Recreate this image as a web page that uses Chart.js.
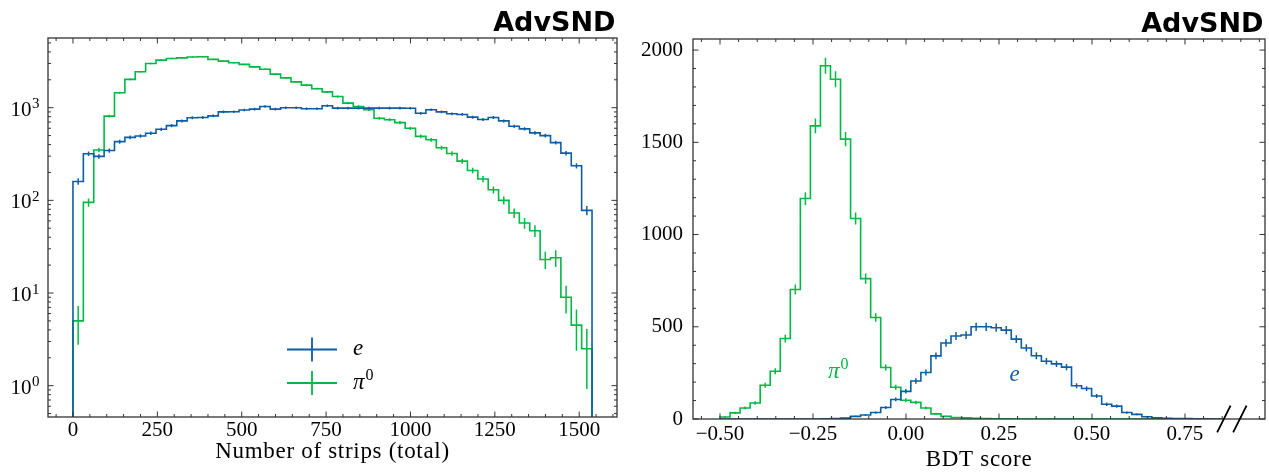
<!DOCTYPE html>
<html><head><meta charset="utf-8">
<script src="https://cdn.jsdelivr.net/npm/chart.js@4.4.1/dist/chart.umd.min.js"></script>
<style>
html,body{margin:0;padding:0;background:#fff;overflow:hidden;}
#wrapL{position:absolute;left:0;top:0;width:634px;height:475px;}
#wrapR{position:absolute;left:634px;top:0;width:635px;height:475px;}
canvas{display:block;}
</style></head><body>
<div id="wrapL"><canvas id="cL" width="634" height="475"></canvas></div>
<div id="wrapR"><canvas id="cR" width="635" height="475"></canvas></div>
<script>
// ---------------- data: number of strips (left panel) ----------------
const stripBinStart = 0;
const stripBinWidth = 30.76;
const stripsElectron = [160, 318, 298, 345, 430, 478, 495, 530, 585, 640,
  720, 780, 785, 815, 900, 905, 945, 965, 1030, 965,
  1000, 1000, 975, 975, 1050, 990, 990, 990, 990, 990,
  990, 990, 985, 870, 950, 900, 860, 845, 790, 745,
  785, 720, 630, 590, 535, 500, 420, 323, 236, 78];
const stripsPi0 = [5, 95, 350, 810, 1450, 2020, 2440, 3000, 3260, 3400,
  3450, 3530, 3540, 3320, 3180, 3050, 2930, 2760, 2600, 2300,
  2100, 1900, 1750, 1600, 1480, 1320, 1120, 1030, 950, 770,
  740, 690, 600, 490, 450, 370, 320, 265, 210, 170,
  130, 100, 73, 57, 47, 23, 24, 9, 4.5, 2.5];
const stripXTicks = [0, 250, 500, 750, 1000, 1250, 1500];
const stripYTicks = [1, 10, 100, 1000];
const stripYExponents = ['0', '1', '2', '3'];

// ---------------- data: BDT score (right panel) ----------------
const bdtBinStart = -0.5;
const bdtBinWidth = 0.027;
const bdtElectron = [0, 0, 0, 0, 0, 0, 0, 0, 0, 0,
  1, 3, 5, 14, 22, 35, 62, 106, 150, 206,
  252, 342, 412, 450, 455, 500, 500, 495, 482, 433,
  385, 343, 313, 299, 281, 180, 165, 125, 80, 70,
  35, 25, 12, 7, 4, 3, 2, 1, 1, 0];
const bdtPi0 = [11, 33, 60, 87, 183, 259, 436, 702, 1195, 1589,
  1915, 1842, 1517, 1087, 761, 550, 279, 172, 102, 90,
  60, 28, 14, 8, 6, 4, 2, 1, 1, 0,
  0, 0, 0, 0, 0, 0, 0, 0, 0, 0,
  0, 0, 0, 0, 0, 0, 0, 0, 0, 0];
const bdtXTicks = [-0.5, -0.25, 0, 0.25, 0.5, 0.75];
const bdtXLabels = ['\u22120.50', '\u22120.25', '0.00', '0.25', '0.50', '0.75'];
const bdtYTicks = [0, 500, 1000, 1500, 2000];
const bdtYLabels = ['0', '500', '1000', '1500', '2000'];

const seriesNames = ['e', '\u03c0'];
const titleText = 'AdvSND';
const stripAxisTitle = 'Number of strips (total)';
const bdtAxisTitle = 'BDT score';

// ---------------- styles ----------------
const BLUE = '#0C5DA5', GREEN = '#00B945';
const SERIF = "'Liberation Serif', 'Times New Roman', serif";
const SANS = "'DejaVu Sans', sans-serif";

function stepPoints(start, width, vals, floor) {
  const pts = [{x: start, y: floor}];
  vals.forEach((v, i) => pts.push({x: start + i * width, y: v}));
  const end = start + vals.length * width;
  pts.push({x: end, y: vals[vals.length - 1]});
  pts.push({x: end, y: floor});
  return pts;
}
function errPoints(start, width, vals) {
  const pts = [];
  vals.forEach((v, i) => {
    if (v <= 0) return;
    const c = start + (i + 0.5) * width, e = Math.sqrt(v);
    pts.push({x: c, y: Math.max(v - e, 1e-3)}, {x: c, y: v + e}, {x: c, y: null});
  });
  return pts;
}
function stepDs(pts, color) {
  return {data: pts, borderColor: color, borderWidth: 1.6, pointRadius: 0, fill: false,
          stepped: 'before', tension: 0, spanGaps: false};
}
function errDs(pts, color) {
  return {data: pts, borderColor: color, borderWidth: 1.5, pointRadius: 0, fill: false,
          stepped: false, tension: 0, spanGaps: false};
}
function minorList(from, to, step, majors) {
  const out = [];
  for (let v = from; v <= to + 1e-9; v += step) {
    const r = Math.round(v / step) * step;
    if (!majors.some(m => Math.abs(m - r) < step * 1e-3)) out.push(r);
  }
  return out;
}
function drawFrame(chart, xMaj, xMin, yMaj, yMin) {
  const {ctx, chartArea: a, scales: {x, y}} = chart;
  ctx.save();
  ctx.strokeStyle = '#333';
  ctx.lineWidth = 1;
  ctx.beginPath();
  const vx = (vals, len) => vals.forEach(v => {
    const p = x.getPixelForValue(v);
    if (p < a.left || p > a.right) return;
    ctx.moveTo(p, a.bottom); ctx.lineTo(p, a.bottom - len);
    ctx.moveTo(p, a.top); ctx.lineTo(p, a.top + len);
  });
  const vy = (vals, len) => vals.forEach(v => {
    const p = y.getPixelForValue(v);
    if (p < a.top || p > a.bottom) return;
    ctx.moveTo(a.left, p); ctx.lineTo(a.left + len, p);
    ctx.moveTo(a.right, p); ctx.lineTo(a.right - len, p);
  });
  vx(xMaj, 5.5); vx(xMin, 3); vy(yMaj, 5.5); vy(yMin, 3);
  ctx.stroke();
  ctx.lineWidth = 1.3;
  ctx.strokeRect(a.left, a.top, a.right - a.left, a.bottom - a.top);
  ctx.restore();
}
function drawTitle(chart) {
  const {ctx, chartArea: a} = chart;
  ctx.save();
  ctx.fillStyle = '#000';
  ctx.font = `bold 27px ${SANS}`;
  ctx.textAlign = 'right';
  ctx.textBaseline = 'alphabetic';
  ctx.fillText(titleText, a.right - 1.5, a.top - 7);
  ctx.restore();
}
function drawAxisTitle(chart, text, baseline) {
  const {ctx, chartArea: a} = chart;
  ctx.save();
  ctx.fillStyle = '#000';
  ctx.font = `23px ${SERIF}`;
  try { ctx.letterSpacing = '0.7px'; } catch (e) {}
  ctx.textAlign = 'center';
  ctx.textBaseline = 'alphabetic';
  ctx.fillText(text, (a.left + a.right) / 2, baseline);
  ctx.restore();
}
function drawPiLabel(ctx, x, y, color, align) {
  ctx.save();
  ctx.fillStyle = color;
  ctx.textBaseline = 'alphabetic';
  ctx.textAlign = 'left';
  ctx.font = `italic 23px ${SERIF}`;
  const pw = ctx.measureText(seriesNames[1]).width;
  ctx.font = `16px ${SERIF}`;
  const zw = ctx.measureText('0').width;
  const x0 = align === 'center' ? x - (pw + zw + 1) / 2 : x;
  ctx.font = `italic 23px ${SERIF}`;
  ctx.fillText(seriesNames[1], x0, y + 6);
  ctx.font = `16px ${SERIF}`;
  ctx.fillText('0', x0 + pw + 1, y - 3);
  ctx.restore();
}

// ---------------- left chart ----------------
const stripXMinor = minorList(-50, 1600, 50, stripXTicks);
const stripYMinor = [];
[0.1, 1, 10, 100, 1000].forEach(d => { for (let k = 2; k <= 9; k++) stripYMinor.push(k * d); });

const leftDecor = {
  id: 'leftDecor',
  afterDatasetsDraw(chart) { drawFrame(chart, stripXTicks, stripXMinor, stripYTicks, stripYMinor); },
  afterDraw(chart) {
    const {ctx, chartArea: a, scales: {y}} = chart;
    ctx.save();
    ctx.fillStyle = '#000';
    ctx.textAlign = 'right';
    ctx.textBaseline = 'alphabetic';
    stripYTicks.forEach((v, i) => {
      const py = y.getPixelForValue(v);
      ctx.font = `15px ${SERIF}`;
      const ew = ctx.measureText(stripYExponents[i]).width;
      ctx.fillText(stripYExponents[i], a.left - 8.5, py + 0.5);
      ctx.font = `21px ${SERIF}`;
      ctx.fillText('10', a.left - 8.5 - ew - 0.5, py + 8);
    });
    ctx.restore();
    drawTitle(chart);
    drawAxisTitle(chart, stripAxisTitle, 458);
    // legend
    const rows = [{c: BLUE, y: a.bottom - 67.5}, {c: GREEN, y: a.bottom - 34}];
    const hx0 = a.left + 239, hx1 = a.left + 289, hxc = (hx0 + hx1) / 2;
    ctx.save();
    rows.forEach((r, i) => {
      ctx.strokeStyle = r.c; ctx.lineWidth = 1.8;
      ctx.beginPath();
      ctx.moveTo(hx0, r.y); ctx.lineTo(hx1, r.y);
      ctx.moveTo(hxc, r.y - 12); ctx.lineTo(hxc, r.y + 12);
      ctx.stroke();
    });
    ctx.fillStyle = '#000';
    ctx.font = `italic 23px ${SERIF}`;
    ctx.textAlign = 'left'; ctx.textBaseline = 'alphabetic';
    ctx.fillText(seriesNames[0], a.left + 305, rows[0].y + 5);
    ctx.restore();
    drawPiLabel(ctx, a.left + 305, rows[1].y, '#000', 'left');
  }
};

new Chart(document.getElementById('cL'), {
  type: 'line',
  data: {datasets: [
    stepDs(stepPoints(stripBinStart, stripBinWidth, stripsElectron, 1e-3), BLUE),
    errDs(errPoints(stripBinStart, stripBinWidth, stripsElectron), BLUE),
    stepDs(stepPoints(stripBinStart, stripBinWidth, stripsPi0, 1e-3), GREEN),
    errDs(errPoints(stripBinStart, stripBinWidth, stripsPi0), GREEN)
  ]},
  options: {
    animation: false, responsive: false, devicePixelRatio: 1,
    layout: {padding: {left: 0, right: 17, top: 38, bottom: 0}},
    plugins: {legend: {display: false}, tooltip: {enabled: false}, title: {display: false}},
    scales: {
      x: {type: 'linear', min: -74, max: 1612,
        grid: {display: false, drawTicks: false}, border: {display: false},
        afterBuildTicks: s => { s.ticks = stripXTicks.map(v => ({value: v})); },
        afterFit: s => { s.height = 58; },
        ticks: {autoSkip: false, maxRotation: 0, padding: 1, color: '#000',
          font: {family: SERIF, size: 21}, callback: v => String(v)}},
      y: {type: 'logarithmic', min: 0.459, max: 5650,
        grid: {display: false, drawTicks: false}, border: {display: false},
        afterBuildTicks: s => { s.ticks = stripYTicks.map(v => ({value: v})); },
        afterFit: s => { s.width = 48; },
        ticks: {display: false}}
    }
  },
  plugins: [leftDecor]
});

// ---------------- right chart ----------------
const bdtXMinor = minorList(-0.55, 0.95, 0.05, bdtXTicks);
const bdtYMinor = minorList(100, 2000, 100, bdtYTicks);

const rightDecor = {
  id: 'rightDecor',
  afterDatasetsDraw(chart) {
    drawFrame(chart, bdtXTicks, bdtXMinor, bdtYTicks, bdtYMinor);
    const {ctx, chartArea: a, scales: {x}} = chart;
    const xc = x.getPixelForValue(0.876);
    ctx.save();
    ctx.strokeStyle = '#000'; ctx.lineWidth = 1.8;
    ctx.beginPath();
    [-8, 8].forEach(d => {
      ctx.moveTo(xc + d - 6.7, a.bottom + 13.3);
      ctx.lineTo(xc + d + 6.7, a.bottom - 13.3);
    });
    ctx.stroke();
    ctx.restore();
  },
  afterDraw(chart) {
    const {ctx, scales: {x, y}} = chart;
    drawTitle(chart);
    drawAxisTitle(chart, bdtAxisTitle, 466);
    drawPiLabel(ctx, x.getPixelForValue(-0.182), y.getPixelForValue(253), GREEN, 'center');
    ctx.save();
    ctx.fillStyle = BLUE;
    ctx.font = `italic 23px ${SERIF}`;
    ctx.textAlign = 'center'; ctx.textBaseline = 'alphabetic';
    ctx.fillText(seriesNames[0], x.getPixelForValue(0.292), y.getPixelForValue(237) + 6);
    ctx.restore();
  }
};

new Chart(document.getElementById('cR'), {
  type: 'line',
  data: {datasets: [
    stepDs(stepPoints(bdtBinStart, bdtBinWidth, bdtElectron, 0), BLUE),
    errDs(errPoints(bdtBinStart, bdtBinWidth, bdtElectron), BLUE),
    stepDs(stepPoints(bdtBinStart, bdtBinWidth, bdtPi0, 0), GREEN),
    errDs(errPoints(bdtBinStart, bdtBinWidth, bdtPi0), GREEN)
  ]},
  options: {
    animation: false, responsive: false, devicePixelRatio: 1,
    layout: {padding: {left: 0, right: 4, top: 39, bottom: 0}},
    plugins: {legend: {display: false}, tooltip: {enabled: false}, title: {display: false}},
    scales: {
      x: {type: 'linear', min: -0.5726, max: 0.9651,
        grid: {display: false, drawTicks: false}, border: {display: false},
        afterBuildTicks: s => { s.ticks = bdtXTicks.map(v => ({value: v})); },
        afterFit: s => { s.height = 56; },
        ticks: {autoSkip: false, maxRotation: 0, padding: 3, color: '#000',
          font: {family: SERIF, size: 21},
          callback: v => { const i = bdtXTicks.findIndex(t => Math.abs(t - v) < 1e-9); return i >= 0 ? bdtXLabels[i] : ''; }}},
      y: {type: 'linear', min: 0, max: 2060,
        grid: {display: false, drawTicks: false}, border: {display: false},
        afterBuildTicks: s => { s.ticks = bdtYTicks.map(v => ({value: v})); },
        afterFit: s => { s.width = 59; },
        ticks: {autoSkip: false, padding: 10, color: '#000',
          font: {family: SERIF, size: 21},
          callback: v => { const i = bdtYTicks.indexOf(v); return i >= 0 ? bdtYLabels[i] : ''; }}}
    }
  },
  plugins: [rightDecor]
});
</script>
</body></html>
